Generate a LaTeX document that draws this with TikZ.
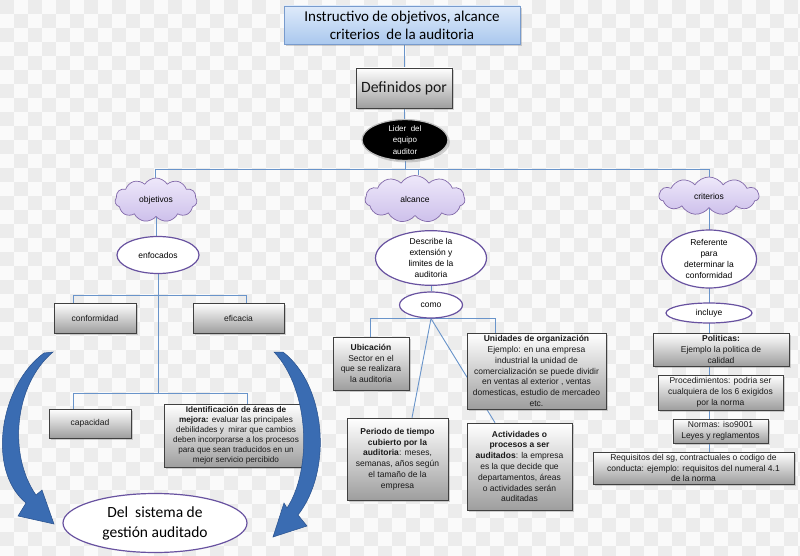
\documentclass[tikz,border=0pt]{standalone}
\usepackage{fontspec}
\setmainfont{Liberation Sans}
\newfontfamily\calib{Carlito}
\usetikzlibrary{shapes.geometric,shapes.symbols,shadows,calc}
\definecolor{linec}{RGB}{105,148,202}
\definecolor{ovalc}{RGB}{104,82,160}
\definecolor{cloudd}{RGB}{130,105,170}
\definecolor{cloudt}{RGB}{238,232,250}
\definecolor{cloudb}{RGB}{205,192,235}
\definecolor{titlet}{RGB}{222,234,250}
\definecolor{titleb}{RGB}{170,200,238}
\definecolor{titled}{RGB}{120,155,205}
\definecolor{arrowc}{RGB}{58,108,178}
\definecolor{arrowd}{RGB}{40,80,140}
\definecolor{chk}{RGB}{236,236,236}
\definecolor{chkw}{RGB}{250,250,250}
\pgfdeclarelayer{back}
\pgfdeclarelayer{bg}
\pgfsetlayers{back,bg,main}
\tikzset{
  conn/.style={draw=linec, line width=0.9pt},
  shad/.style={drop shadow={shadow xshift=2pt, shadow yshift=-2pt, opacity=0.35}},
  gbox/.style={rectangle, draw=black!75, line width=0.6pt, top color=white, bottom color=black!38,
    shad, align=center, inner sep=1pt, text=black!90,
    font=\fontsize{8.5}{10.8}\selectfont},
  titlebox/.style={rectangle, draw=titled, line width=0.8pt, top color=titlet, bottom color=titleb,
    shad, align=center, inner sep=1pt, font=\calib\fontsize{15}{18}\selectfont},
  oval/.style={ellipse, draw=ovalc, line width=1.2pt, fill=white, align=center, inner sep=0pt,
    font=\fontsize{8.5}{10.8}\selectfont},
  cloudn/.style={cloud, cloud puffs=11, cloud puff arc=115, cloud ignores aspect, draw=cloudd,
    line width=0.7pt, top color=cloudt, bottom color=cloudb, inner sep=0pt,
    font=\fontsize{8.5}{10.8}\selectfont},
  blkarrow/.style={fill=arrowc, draw=arrowd, line width=0.5pt}
}
\begin{document}
\begin{tikzpicture}[x=1pt,y=-1pt]
\useasboundingbox (0,0) rectangle (800,556);
% background checker
\begin{pgfonlayer}{back}
\fill[chkw] (0,0) rectangle (800,556);
\foreach \i in {0,...,28}{
  \foreach \j in {0,...,19}{
    \fill[chk] (\i*28,\j*28) rectangle +(14,14);
    \fill[chk] (\i*28+14,\j*28+14) rectangle +(14,14);
  }
}
\end{pgfonlayer}

% top
\node[titlebox, minimum width=236pt, minimum height=38pt] (title) at (402,25)
  {Instructivo de objetivos, alcance\\criterios\ \ de la auditoria};
\node[gbox, font=\calib\fontsize{15.7}{17}\selectfont, minimum width=96pt, minimum height=40pt] (defin) at (404,88) {Definidos por};
\node[ellipse, fill=black, draw=black!25, line width=1.2pt, shad, text=white, align=center, inner sep=0pt,
  minimum width=86pt, minimum height=38pt, font=\fontsize{8}{11.5}\selectfont] (lider) at (405,140)
  {Lider\ \ del\\equipo\\auditor};

% clouds
\node[cloudn, minimum width=82pt, minimum height=44pt] (obj) at (156,200) {objetivos};
\node[cloudn, minimum width=100pt, minimum height=47pt] (alc) at (415,199) {alcance};
\node[cloudn, minimum width=100pt, minimum height=38pt] (cri) at (709,196) {criterios};

% ovals
\node[oval, minimum width=82pt, minimum height=37pt] (enf) at (158,255) {enfocados};
\node[oval, minimum width=111pt, minimum height=51pt] (descr) at (431,258) {Describe la\\extensión y\\limites de la\\auditoria};
\node[oval, minimum width=95pt, minimum height=58pt] (refer) at (709,259) {Referente\\para\\determinar la\\conformidad};
\node[oval, minimum width=63pt, minimum height=26pt] (como) at (431,305) {como};
\node[oval, minimum width=86pt, minimum height=20pt] (incl) at (709,313) {incluye};

% left column boxes
\node[gbox, minimum width=82pt, minimum height=30pt] (conf) at (95,318) {conformidad};
\node[gbox, minimum width=91pt, minimum height=30pt] (efic) at (238.5,318) {eficacia};
\node[gbox, minimum width=82pt, minimum height=29pt] (capa) at (90,423.5) {capacidad};
\node[gbox, minimum width=144pt, minimum height=63pt, font=\fontsize{8.2}{10.1}\selectfont] (ident) at (236,435.5)
  {\textbf{Identificación de áreas de}\\\textbf{mejora:} evaluar las principales\\debilidades y\ \ mirar que cambios\\deben incorporarse a los procesos\\para que sean traducidos en un\\mejor servicio percibido};
\node[ellipse, draw=ovalc, line width=1.2pt, fill=white, align=center, inner sep=0pt,
  minimum width=184pt, minimum height=59pt, font=\calib\fontsize{15.5}{20}\selectfont] (delsis) at (155,523)
  {Del\ \ sistema de\\gestión auditado};

% middle column boxes
\node[gbox, minimum width=76pt, minimum height=53pt] (ubic) at (371,363.5)
  {\textbf{Ubicación}\\Sector en el\\que se realizara\\la auditoria};
\node[gbox, minimum width=139pt, minimum height=76pt] (unid) at (536.5,371)
  {\textbf{Unidades de organización}\\Ejemplo: en una empresa\\industrial la unidad de\\comercialización se puede dividir\\en ventas al exterior , ventas\\domesticas, estudio de mercadeo\\etc.};
\node[gbox, minimum width=101pt, minimum height=82pt] (peri) at (397.5,459)
  {\textbf{Periodo de tiempo}\\\textbf{cubierto por la}\\\textbf{auditoria}: meses,\\semanas, años según\\el tamaño de la\\empresa};
\node[gbox, minimum width=105pt, minimum height=87pt] (acti) at (519.5,466.5)
  {\textbf{Actividades o}\\\textbf{procesos a ser}\\\textbf{auditados}: la empresa\\es la que decide que\\departamentos, áreas\\o actividades serán\\auditadas};

% right column boxes
\node[gbox, minimum width=136pt, minimum height=33pt] (poli) at (721,349.5)
  {\textbf{Politicas:}\\Ejemplo la politica de\\calidad};
\node[gbox, minimum width=125pt, minimum height=35pt] (proc) at (720.5,392.5)
  {Procedimientos: podria ser\\cualquiera de los 6 exigidos\\por la norma};
\node[gbox, minimum width=95pt, minimum height=24pt] (norm) at (720.5,431)
  {Normas: iso9001\\Leyes y reglamentos};
\node[gbox, minimum width=201pt, minimum height=32pt] (requ) at (693.5,468)
  {Requisitos del sg, contractuales o codigo de\\conducta: ejemplo: requisitos del numeral 4.1\\de la norma};

% connectors
\coordinate (busL) at (155,169);
\coordinate (busM) at (418,169);
\coordinate (busR) at (709,169);
\coordinate (b2L) at (73,295);
\coordinate (b2R) at (246,295);
\coordinate (b3L) at (73,393);
\coordinate (b3R) at (247,393);
\coordinate (cbL) at (370,318);
\coordinate (cbR) at (495,318);
\begin{pgfonlayer}{bg}
\draw[conn] (defin.north |- title.south) -- (defin.north);
\draw[conn] (defin.south) -- (defin.south |- lider.north);
\draw[conn] (lider.south) -- (lider.south |- busL);
\draw[conn] (busL) -- (busR);
\draw[conn] (busL) -- (busL |- obj.north);
\draw[conn] (busM) -- (busM |- alc.north);
\draw[conn] (busR) -- (busR |- cri.north);
\draw[conn] (obj.south) -- (obj.south |- enf.north);
\draw[conn] (enf.south) -- (enf.south |- b3L);
\draw[conn] (b2L) -- (b2R);
\draw[conn] (b2L) -- (b2L |- conf.north);
\draw[conn] (b2R) -- (b2R |- efic.north);
\draw[conn] (b3L) -- (b3R);
\draw[conn] (b3L) -- (b3L |- capa.north);
\draw[conn] (b3R) -- (b3R |- ident.north);
\draw[conn] ($(alc.south)+(9,0)$) -- ($(alc.south)+(9,0)$ |- descr.north);
\draw[conn] (descr.south) -- (como.north);
\draw[conn] (cbL) -- (cbR);
\draw[conn] (cbL) -- (cbL |- ubic.north);
\draw[conn] (cbR) -- (cbR |- unid.north);
\draw[conn] (como.south) -- ($(peri.north)+(14.5,0)$);
\draw[conn] (como.south) -- ($(acti.north)+(-24.5,0)$);
\draw[conn] (cri.south) -- (cri.south |- requ.north);
\end{pgfonlayer}

% curved block arrows
\path[blkarrow] (44,353) .. controls (0,385) and (-14,470) .. (26,503)
  -- (18,516) -- (54,524) -- (42,490) -- (36,495)
  .. controls (8,455) and (14,385) .. (53,352) -- cycle;
\path[blkarrow] (283,352) .. controls (326,385) and (333,470) .. (298,515)
  -- (307,526) -- (273,537) -- (284,503) -- (287,508)
  .. controls (312,470) and (310,390) .. (274,352) -- cycle;
\end{tikzpicture}
\end{document}
